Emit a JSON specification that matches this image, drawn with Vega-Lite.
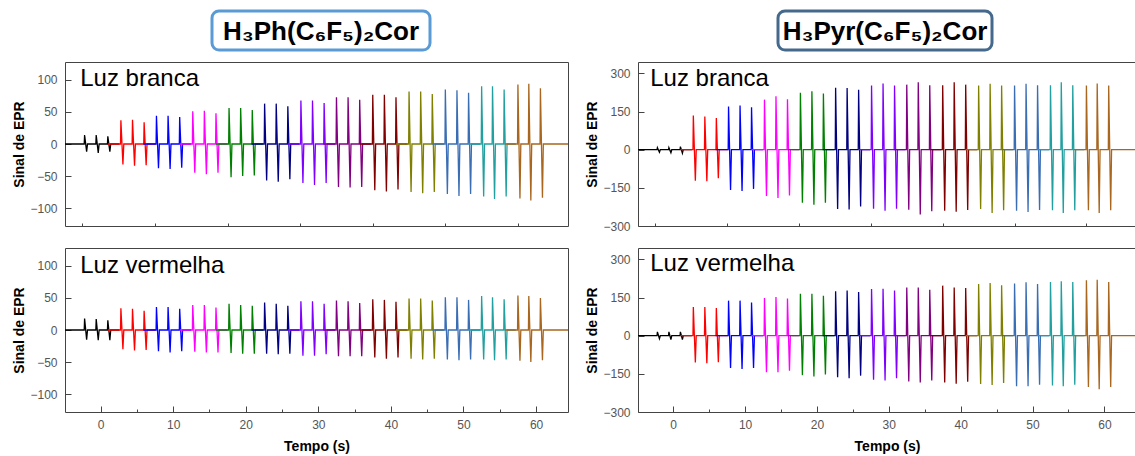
{
"$schema": "https://vega.github.io/schema/vega-lite/v6.json",
"padding": {"left": 12, "top": 9, "right": 0, "bottom": 0},
"config": {
  "font": "Liberation Sans",
  "view": {"stroke": "#444", "strokeWidth": 1},
  "axis": {"labelFont": "Liberation Sans", "labelFontSize": 12, "labelColor": "#555", "titleFont": "Liberation Sans", "titleFontSize": 14, "titleFontWeight": "bold", "titleColor": "#000", "domain": false, "grid": false, "tickColor": "#444", "tickWidth": 1, "labelOverlap": false, "labelBound": false}
},
"datasets": {
"tl": [
{"g":"k","t":-4.9,"v":0},{"g":"k","t":-2.25,"v":0},{"g":"k","t":-2.2,"v":14},{"g":"k","t":-1.92,"v":-12},{"g":"k","t":-1.8,"v":0},{"g":"k","t":-0.65,"v":0},{"g":"k","t":-0.6,"v":14},{"g":"k","t":-0.32,"v":-14},{"g":"k","t":-0.2,"v":0},{"g":"k","t":0.95,"v":0},{"g":"k","t":1.0,"v":12},{"g":"k","t":1.28,"v":-12},{"g":"k","t":1.4,"v":0},{"g":"k","t":2.6,"v":0},
{"g":"r","t":1.0,"v":0},{"g":"r","t":2.75,"v":0},{"g":"r","t":2.8,"v":37},{"g":"r","t":3.08,"v":-32},{"g":"r","t":3.2,"v":0},{"g":"r","t":4.35,"v":0},{"g":"r","t":4.4,"v":38},{"g":"r","t":4.68,"v":-34},{"g":"r","t":4.8,"v":0},{"g":"r","t":5.95,"v":0},{"g":"r","t":6.0,"v":34},{"g":"r","t":6.28,"v":-33},{"g":"r","t":6.4,"v":0},{"g":"r","t":7.6,"v":0},
{"g":"b","t":5.9,"v":0},{"g":"b","t":7.65,"v":0},{"g":"b","t":7.7,"v":44},{"g":"b","t":7.98,"v":-38},{"g":"b","t":8.1,"v":0},{"g":"b","t":9.25,"v":0},{"g":"b","t":9.3,"v":44},{"g":"b","t":9.58,"v":-39},{"g":"b","t":9.7,"v":0},{"g":"b","t":10.85,"v":0},{"g":"b","t":10.9,"v":42},{"g":"b","t":11.18,"v":-37},{"g":"b","t":11.3,"v":0},{"g":"b","t":12.5,"v":0},
{"g":"m","t":10.9,"v":0},{"g":"m","t":12.65,"v":0},{"g":"m","t":12.7,"v":51},{"g":"m","t":12.98,"v":-45},{"g":"m","t":13.1,"v":0},{"g":"m","t":14.25,"v":0},{"g":"m","t":14.3,"v":52},{"g":"m","t":14.58,"v":-47},{"g":"m","t":14.7,"v":0},{"g":"m","t":15.85,"v":0},{"g":"m","t":15.9,"v":48},{"g":"m","t":16.18,"v":-45},{"g":"m","t":16.3,"v":0},{"g":"m","t":17.5,"v":0},
{"g":"g","t":15.9,"v":0},{"g":"g","t":17.65,"v":0},{"g":"g","t":17.7,"v":56},{"g":"g","t":17.98,"v":-52},{"g":"g","t":18.1,"v":0},{"g":"g","t":19.25,"v":0},{"g":"g","t":19.3,"v":56},{"g":"g","t":19.58,"v":-50},{"g":"g","t":19.7,"v":0},{"g":"g","t":20.85,"v":0},{"g":"g","t":20.9,"v":53},{"g":"g","t":21.18,"v":-49},{"g":"g","t":21.3,"v":0},{"g":"g","t":22.4,"v":0},
{"g":"n","t":20.8,"v":0},{"g":"n","t":22.55,"v":0},{"g":"n","t":22.6,"v":63},{"g":"n","t":22.88,"v":-57},{"g":"n","t":23.0,"v":0},{"g":"n","t":24.15,"v":0},{"g":"n","t":24.2,"v":63},{"g":"n","t":24.48,"v":-59},{"g":"n","t":24.6,"v":0},{"g":"n","t":25.75,"v":0},{"g":"n","t":25.8,"v":59},{"g":"n","t":26.08,"v":-55},{"g":"n","t":26.2,"v":0},{"g":"n","t":27.4,"v":0},
{"g":"v","t":25.8,"v":0},{"g":"v","t":27.55,"v":0},{"g":"v","t":27.6,"v":68},{"g":"v","t":27.88,"v":-61},{"g":"v","t":28.0,"v":0},{"g":"v","t":29.15,"v":0},{"g":"v","t":29.2,"v":68},{"g":"v","t":29.48,"v":-64},{"g":"v","t":29.6,"v":0},{"g":"v","t":30.75,"v":0},{"g":"v","t":30.8,"v":64},{"g":"v","t":31.08,"v":-61},{"g":"v","t":31.2,"v":0},{"g":"v","t":32.3,"v":0},
{"g":"p","t":30.7,"v":0},{"g":"p","t":32.45,"v":0},{"g":"p","t":32.5,"v":73},{"g":"p","t":32.78,"v":-67},{"g":"p","t":32.9,"v":0},{"g":"p","t":34.05,"v":0},{"g":"p","t":34.1,"v":73},{"g":"p","t":34.38,"v":-68},{"g":"p","t":34.5,"v":0},{"g":"p","t":35.65,"v":0},{"g":"p","t":35.7,"v":69},{"g":"p","t":35.98,"v":-67},{"g":"p","t":36.1,"v":0},{"g":"p","t":37.3,"v":0},
{"g":"w","t":35.7,"v":0},{"g":"w","t":37.45,"v":0},{"g":"w","t":37.5,"v":77},{"g":"w","t":37.78,"v":-72},{"g":"w","t":37.9,"v":0},{"g":"w","t":39.05,"v":0},{"g":"w","t":39.1,"v":77},{"g":"w","t":39.38,"v":-74},{"g":"w","t":39.5,"v":0},{"g":"w","t":40.65,"v":0},{"g":"w","t":40.7,"v":73},{"g":"w","t":40.98,"v":-71},{"g":"w","t":41.1,"v":0},{"g":"w","t":42.3,"v":0},
{"g":"o","t":40.7,"v":0},{"g":"o","t":42.45,"v":0},{"g":"o","t":42.5,"v":82},{"g":"o","t":42.78,"v":-75},{"g":"o","t":42.9,"v":0},{"g":"o","t":44.05,"v":0},{"g":"o","t":44.1,"v":82},{"g":"o","t":44.38,"v":-77},{"g":"o","t":44.5,"v":0},{"g":"o","t":45.65,"v":0},{"g":"o","t":45.7,"v":78},{"g":"o","t":45.98,"v":-75},{"g":"o","t":46.1,"v":0},{"g":"o","t":47.3,"v":0},
{"g":"s","t":45.7,"v":0},{"g":"s","t":47.45,"v":0},{"g":"s","t":47.5,"v":85},{"g":"s","t":47.78,"v":-78},{"g":"s","t":47.9,"v":0},{"g":"s","t":49.05,"v":0},{"g":"s","t":49.1,"v":84},{"g":"s","t":49.38,"v":-81},{"g":"s","t":49.5,"v":0},{"g":"s","t":50.65,"v":0},{"g":"s","t":50.7,"v":80},{"g":"s","t":50.98,"v":-78},{"g":"s","t":51.1,"v":0},{"g":"s","t":52.3,"v":0},
{"g":"c","t":50.7,"v":0},{"g":"c","t":52.45,"v":0},{"g":"c","t":52.5,"v":90},{"g":"c","t":52.78,"v":-82},{"g":"c","t":52.9,"v":0},{"g":"c","t":53.95,"v":0},{"g":"c","t":54.0,"v":90},{"g":"c","t":54.28,"v":-86},{"g":"c","t":54.4,"v":0},{"g":"c","t":55.55,"v":0},{"g":"c","t":55.6,"v":85},{"g":"c","t":55.88,"v":-82},{"g":"c","t":56.0,"v":0},{"g":"c","t":57.2,"v":0},
{"g":"x","t":55.7,"v":0},{"g":"x","t":57.45,"v":0},{"g":"x","t":57.5,"v":93},{"g":"x","t":57.78,"v":-85},{"g":"x","t":57.9,"v":0},{"g":"x","t":58.95,"v":0},{"g":"x","t":59.0,"v":94},{"g":"x","t":59.28,"v":-88},{"g":"x","t":59.4,"v":0},{"g":"x","t":60.55,"v":0},{"g":"x","t":60.6,"v":87},{"g":"x","t":60.88,"v":-84},{"g":"x","t":61.0,"v":0},{"g":"x","t":64.4,"v":0}
],
"bl": [
{"g":"k","t":-4.9,"v":0},{"g":"k","t":-2.25,"v":0},{"g":"k","t":-2.2,"v":18},{"g":"k","t":-1.92,"v":-15},{"g":"k","t":-1.8,"v":0},{"g":"k","t":-0.65,"v":0},{"g":"k","t":-0.6,"v":17},{"g":"k","t":-0.32,"v":-16},{"g":"k","t":-0.2,"v":0},{"g":"k","t":0.95,"v":0},{"g":"k","t":1.0,"v":15},{"g":"k","t":1.28,"v":-16},{"g":"k","t":1.4,"v":0},{"g":"k","t":2.6,"v":0},
{"g":"r","t":1.0,"v":0},{"g":"r","t":2.75,"v":0},{"g":"r","t":2.8,"v":34},{"g":"r","t":3.08,"v":-30},{"g":"r","t":3.2,"v":0},{"g":"r","t":4.35,"v":0},{"g":"r","t":4.4,"v":33},{"g":"r","t":4.68,"v":-32},{"g":"r","t":4.8,"v":0},{"g":"r","t":5.95,"v":0},{"g":"r","t":6.0,"v":30},{"g":"r","t":6.28,"v":-31},{"g":"r","t":6.4,"v":0},{"g":"r","t":7.6,"v":0},
{"g":"b","t":5.9,"v":0},{"g":"b","t":7.65,"v":0},{"g":"b","t":7.7,"v":36},{"g":"b","t":7.98,"v":-33},{"g":"b","t":8.1,"v":0},{"g":"b","t":9.25,"v":0},{"g":"b","t":9.3,"v":36},{"g":"b","t":9.58,"v":-35},{"g":"b","t":9.7,"v":0},{"g":"b","t":10.85,"v":0},{"g":"b","t":10.9,"v":33},{"g":"b","t":11.18,"v":-33},{"g":"b","t":11.3,"v":0},{"g":"b","t":12.5,"v":0},
{"g":"m","t":10.9,"v":0},{"g":"m","t":12.65,"v":0},{"g":"m","t":12.7,"v":39},{"g":"m","t":12.98,"v":-34},{"g":"m","t":13.1,"v":0},{"g":"m","t":14.25,"v":0},{"g":"m","t":14.3,"v":39},{"g":"m","t":14.58,"v":-35},{"g":"m","t":14.7,"v":0},{"g":"m","t":15.85,"v":0},{"g":"m","t":15.9,"v":35},{"g":"m","t":16.18,"v":-35},{"g":"m","t":16.3,"v":0},{"g":"m","t":17.5,"v":0},
{"g":"g","t":15.9,"v":0},{"g":"g","t":17.65,"v":0},{"g":"g","t":17.7,"v":41},{"g":"g","t":17.98,"v":-36},{"g":"g","t":18.1,"v":0},{"g":"g","t":19.25,"v":0},{"g":"g","t":19.3,"v":39},{"g":"g","t":19.58,"v":-37},{"g":"g","t":19.7,"v":0},{"g":"g","t":20.85,"v":0},{"g":"g","t":20.9,"v":38},{"g":"g","t":21.18,"v":-37},{"g":"g","t":21.3,"v":0},{"g":"g","t":22.4,"v":0},
{"g":"n","t":20.8,"v":0},{"g":"n","t":22.55,"v":0},{"g":"n","t":22.6,"v":43},{"g":"n","t":22.88,"v":-37},{"g":"n","t":23.0,"v":0},{"g":"n","t":24.15,"v":0},{"g":"n","t":24.2,"v":41},{"g":"n","t":24.48,"v":-38},{"g":"n","t":24.6,"v":0},{"g":"n","t":25.75,"v":0},{"g":"n","t":25.8,"v":38},{"g":"n","t":26.08,"v":-37},{"g":"n","t":26.2,"v":0},{"g":"n","t":27.4,"v":0},
{"g":"v","t":25.8,"v":0},{"g":"v","t":27.55,"v":0},{"g":"v","t":27.6,"v":45},{"g":"v","t":27.88,"v":-40},{"g":"v","t":28.0,"v":0},{"g":"v","t":29.15,"v":0},{"g":"v","t":29.2,"v":45},{"g":"v","t":29.48,"v":-40},{"g":"v","t":29.6,"v":0},{"g":"v","t":30.75,"v":0},{"g":"v","t":30.8,"v":41},{"g":"v","t":31.08,"v":-38},{"g":"v","t":31.2,"v":0},{"g":"v","t":32.3,"v":0},
{"g":"p","t":30.7,"v":0},{"g":"p","t":32.45,"v":0},{"g":"p","t":32.5,"v":46},{"g":"p","t":32.78,"v":-41},{"g":"p","t":32.9,"v":0},{"g":"p","t":34.05,"v":0},{"g":"p","t":34.1,"v":45},{"g":"p","t":34.38,"v":-41},{"g":"p","t":34.5,"v":0},{"g":"p","t":35.65,"v":0},{"g":"p","t":35.7,"v":42},{"g":"p","t":35.98,"v":-41},{"g":"p","t":36.1,"v":0},{"g":"p","t":37.3,"v":0},
{"g":"w","t":35.7,"v":0},{"g":"w","t":37.45,"v":0},{"g":"w","t":37.5,"v":48},{"g":"w","t":37.78,"v":-43},{"g":"w","t":37.9,"v":0},{"g":"w","t":39.05,"v":0},{"g":"w","t":39.1,"v":47},{"g":"w","t":39.38,"v":-45},{"g":"w","t":39.5,"v":0},{"g":"w","t":40.65,"v":0},{"g":"w","t":40.7,"v":44},{"g":"w","t":40.98,"v":-43},{"g":"w","t":41.1,"v":0},{"g":"w","t":42.3,"v":0},
{"g":"o","t":40.7,"v":0},{"g":"o","t":42.45,"v":0},{"g":"o","t":42.5,"v":49},{"g":"o","t":42.78,"v":-45},{"g":"o","t":42.9,"v":0},{"g":"o","t":44.05,"v":0},{"g":"o","t":44.1,"v":49},{"g":"o","t":44.38,"v":-46},{"g":"o","t":44.5,"v":0},{"g":"o","t":45.65,"v":0},{"g":"o","t":45.7,"v":46},{"g":"o","t":45.98,"v":-45},{"g":"o","t":46.1,"v":0},{"g":"o","t":47.3,"v":0},
{"g":"s","t":45.7,"v":0},{"g":"s","t":47.45,"v":0},{"g":"s","t":47.5,"v":51},{"g":"s","t":47.78,"v":-46},{"g":"s","t":47.9,"v":0},{"g":"s","t":49.05,"v":0},{"g":"s","t":49.1,"v":51},{"g":"s","t":49.38,"v":-47},{"g":"s","t":49.5,"v":0},{"g":"s","t":50.65,"v":0},{"g":"s","t":50.7,"v":47},{"g":"s","t":50.98,"v":-46},{"g":"s","t":51.1,"v":0},{"g":"s","t":52.3,"v":0},
{"g":"c","t":50.7,"v":0},{"g":"c","t":52.45,"v":0},{"g":"c","t":52.5,"v":53},{"g":"c","t":52.78,"v":-46},{"g":"c","t":52.9,"v":0},{"g":"c","t":53.95,"v":0},{"g":"c","t":54.0,"v":51},{"g":"c","t":54.28,"v":-47},{"g":"c","t":54.4,"v":0},{"g":"c","t":55.55,"v":0},{"g":"c","t":55.6,"v":48},{"g":"c","t":55.88,"v":-46},{"g":"c","t":56.0,"v":0},{"g":"c","t":57.2,"v":0},
{"g":"x","t":55.7,"v":0},{"g":"x","t":57.45,"v":0},{"g":"x","t":57.5,"v":54},{"g":"x","t":57.78,"v":-48},{"g":"x","t":57.9,"v":0},{"g":"x","t":58.95,"v":0},{"g":"x","t":59.0,"v":53},{"g":"x","t":59.28,"v":-50},{"g":"x","t":59.4,"v":0},{"g":"x","t":60.55,"v":0},{"g":"x","t":60.6,"v":50},{"g":"x","t":60.88,"v":-47},{"g":"x","t":61.0,"v":0},{"g":"x","t":64.4,"v":0}
],
"tr": [
{"g":"k","t":-4.9,"v":0},{"g":"k","t":-2.25,"v":0},{"g":"k","t":-2.2,"v":8},{"g":"k","t":-1.92,"v":-10},{"g":"k","t":-1.8,"v":0},{"g":"k","t":-0.65,"v":0},{"g":"k","t":-0.6,"v":8},{"g":"k","t":-0.32,"v":-12},{"g":"k","t":-0.2,"v":0},{"g":"k","t":0.95,"v":0},{"g":"k","t":1.0,"v":12},{"g":"k","t":1.28,"v":-14},{"g":"k","t":1.4,"v":0},{"g":"k","t":2.6,"v":0},
{"g":"r","t":1.0,"v":0},{"g":"r","t":2.75,"v":0},{"g":"r","t":2.8,"v":135},{"g":"r","t":3.08,"v":-122},{"g":"r","t":3.2,"v":0},{"g":"r","t":4.35,"v":0},{"g":"r","t":4.4,"v":131},{"g":"r","t":4.68,"v":-124},{"g":"r","t":4.8,"v":0},{"g":"r","t":5.95,"v":0},{"g":"r","t":6.0,"v":125},{"g":"r","t":6.28,"v":-112},{"g":"r","t":6.4,"v":0},{"g":"r","t":7.6,"v":0},
{"g":"b","t":5.9,"v":0},{"g":"b","t":7.65,"v":0},{"g":"b","t":7.7,"v":170},{"g":"b","t":7.98,"v":-158},{"g":"b","t":8.1,"v":0},{"g":"b","t":9.25,"v":0},{"g":"b","t":9.3,"v":174},{"g":"b","t":9.58,"v":-162},{"g":"b","t":9.7,"v":0},{"g":"b","t":10.85,"v":0},{"g":"b","t":10.9,"v":167},{"g":"b","t":11.18,"v":-154},{"g":"b","t":11.3,"v":0},{"g":"b","t":12.5,"v":0},
{"g":"m","t":10.9,"v":0},{"g":"m","t":12.65,"v":0},{"g":"m","t":12.7,"v":197},{"g":"m","t":12.98,"v":-182},{"g":"m","t":13.1,"v":0},{"g":"m","t":14.25,"v":0},{"g":"m","t":14.3,"v":210},{"g":"m","t":14.58,"v":-190},{"g":"m","t":14.7,"v":0},{"g":"m","t":15.85,"v":0},{"g":"m","t":15.9,"v":198},{"g":"m","t":16.18,"v":-180},{"g":"m","t":16.3,"v":0},{"g":"m","t":17.5,"v":0},
{"g":"g","t":15.9,"v":0},{"g":"g","t":17.65,"v":0},{"g":"g","t":17.7,"v":224},{"g":"g","t":17.98,"v":-209},{"g":"g","t":18.1,"v":0},{"g":"g","t":19.25,"v":0},{"g":"g","t":19.3,"v":230},{"g":"g","t":19.58,"v":-216},{"g":"g","t":19.7,"v":0},{"g":"g","t":20.85,"v":0},{"g":"g","t":20.9,"v":221},{"g":"g","t":21.18,"v":-209},{"g":"g","t":21.3,"v":0},{"g":"g","t":22.4,"v":0},
{"g":"n","t":20.8,"v":0},{"g":"n","t":22.55,"v":0},{"g":"n","t":22.6,"v":244},{"g":"n","t":22.88,"v":-233},{"g":"n","t":23.0,"v":0},{"g":"n","t":24.15,"v":0},{"g":"n","t":24.2,"v":243},{"g":"n","t":24.48,"v":-235},{"g":"n","t":24.6,"v":0},{"g":"n","t":25.75,"v":0},{"g":"n","t":25.8,"v":236},{"g":"n","t":26.08,"v":-223},{"g":"n","t":26.2,"v":0},{"g":"n","t":27.4,"v":0},
{"g":"v","t":25.8,"v":0},{"g":"v","t":27.55,"v":0},{"g":"v","t":27.6,"v":253},{"g":"v","t":27.88,"v":-232},{"g":"v","t":28.0,"v":0},{"g":"v","t":29.15,"v":0},{"g":"v","t":29.2,"v":260},{"g":"v","t":29.48,"v":-240},{"g":"v","t":29.6,"v":0},{"g":"v","t":30.75,"v":0},{"g":"v","t":30.8,"v":253},{"g":"v","t":31.08,"v":-232},{"g":"v","t":31.2,"v":0},{"g":"v","t":32.3,"v":0},
{"g":"p","t":30.7,"v":0},{"g":"p","t":32.45,"v":0},{"g":"p","t":32.5,"v":256},{"g":"p","t":32.78,"v":-236},{"g":"p","t":32.9,"v":0},{"g":"p","t":34.05,"v":0},{"g":"p","t":34.1,"v":265},{"g":"p","t":34.38,"v":-255},{"g":"p","t":34.5,"v":0},{"g":"p","t":35.65,"v":0},{"g":"p","t":35.7,"v":254},{"g":"p","t":35.98,"v":-242},{"g":"p","t":36.1,"v":0},{"g":"p","t":37.3,"v":0},
{"g":"w","t":35.7,"v":0},{"g":"w","t":37.45,"v":0},{"g":"w","t":37.5,"v":254},{"g":"w","t":37.78,"v":-240},{"g":"w","t":37.9,"v":0},{"g":"w","t":39.05,"v":0},{"g":"w","t":39.1,"v":265},{"g":"w","t":39.38,"v":-244},{"g":"w","t":39.5,"v":0},{"g":"w","t":40.65,"v":0},{"g":"w","t":40.7,"v":256},{"g":"w","t":40.98,"v":-237},{"g":"w","t":41.1,"v":0},{"g":"w","t":42.3,"v":0},
{"g":"o","t":40.7,"v":0},{"g":"o","t":42.45,"v":0},{"g":"o","t":42.5,"v":253},{"g":"o","t":42.78,"v":-233},{"g":"o","t":42.9,"v":0},{"g":"o","t":44.05,"v":0},{"g":"o","t":44.1,"v":259},{"g":"o","t":44.38,"v":-249},{"g":"o","t":44.5,"v":0},{"g":"o","t":45.65,"v":0},{"g":"o","t":45.7,"v":253},{"g":"o","t":45.98,"v":-238},{"g":"o","t":46.1,"v":0},{"g":"o","t":47.3,"v":0},
{"g":"s","t":45.7,"v":0},{"g":"s","t":47.45,"v":0},{"g":"s","t":47.5,"v":253},{"g":"s","t":47.78,"v":-240},{"g":"s","t":47.9,"v":0},{"g":"s","t":49.05,"v":0},{"g":"s","t":49.1,"v":259},{"g":"s","t":49.38,"v":-245},{"g":"s","t":49.5,"v":0},{"g":"s","t":50.65,"v":0},{"g":"s","t":50.7,"v":254},{"g":"s","t":50.98,"v":-237},{"g":"s","t":51.1,"v":0},{"g":"s","t":52.3,"v":0},
{"g":"c","t":50.7,"v":0},{"g":"c","t":52.45,"v":0},{"g":"c","t":52.5,"v":254},{"g":"c","t":52.78,"v":-238},{"g":"c","t":52.9,"v":0},{"g":"c","t":53.95,"v":0},{"g":"c","t":54.0,"v":265},{"g":"c","t":54.28,"v":-249},{"g":"c","t":54.4,"v":0},{"g":"c","t":55.55,"v":0},{"g":"c","t":55.6,"v":254},{"g":"c","t":55.88,"v":-238},{"g":"c","t":56.0,"v":0},{"g":"c","t":57.2,"v":0},
{"g":"x","t":55.7,"v":0},{"g":"x","t":57.45,"v":0},{"g":"x","t":57.5,"v":253},{"g":"x","t":57.78,"v":-238},{"g":"x","t":57.9,"v":0},{"g":"x","t":58.95,"v":0},{"g":"x","t":59.0,"v":260},{"g":"x","t":59.28,"v":-249},{"g":"x","t":59.4,"v":0},{"g":"x","t":60.55,"v":0},{"g":"x","t":60.6,"v":253},{"g":"x","t":60.88,"v":-238},{"g":"x","t":61.0,"v":0},{"g":"x","t":64.4,"v":0}
],
"br": [
{"g":"k","t":-4.9,"v":0},{"g":"k","t":-2.25,"v":0},{"g":"k","t":-2.2,"v":15},{"g":"k","t":-1.92,"v":-12},{"g":"k","t":-1.8,"v":0},{"g":"k","t":-0.65,"v":0},{"g":"k","t":-0.6,"v":15},{"g":"k","t":-0.32,"v":-15},{"g":"k","t":-0.2,"v":0},{"g":"k","t":0.95,"v":0},{"g":"k","t":1.0,"v":15},{"g":"k","t":1.28,"v":-15},{"g":"k","t":1.4,"v":0},{"g":"k","t":2.6,"v":0},
{"g":"r","t":1.0,"v":0},{"g":"r","t":2.75,"v":0},{"g":"r","t":2.8,"v":113},{"g":"r","t":3.08,"v":-105},{"g":"r","t":3.2,"v":0},{"g":"r","t":4.35,"v":0},{"g":"r","t":4.4,"v":113},{"g":"r","t":4.68,"v":-108},{"g":"r","t":4.8,"v":0},{"g":"r","t":5.95,"v":0},{"g":"r","t":6.0,"v":109},{"g":"r","t":6.28,"v":-104},{"g":"r","t":6.4,"v":0},{"g":"r","t":7.6,"v":0},
{"g":"b","t":5.9,"v":0},{"g":"b","t":7.65,"v":0},{"g":"b","t":7.7,"v":138},{"g":"b","t":7.98,"v":-127},{"g":"b","t":8.1,"v":0},{"g":"b","t":9.25,"v":0},{"g":"b","t":9.3,"v":138},{"g":"b","t":9.58,"v":-131},{"g":"b","t":9.7,"v":0},{"g":"b","t":10.85,"v":0},{"g":"b","t":10.9,"v":131},{"g":"b","t":11.18,"v":-127},{"g":"b","t":11.3,"v":0},{"g":"b","t":12.5,"v":0},
{"g":"m","t":10.9,"v":0},{"g":"m","t":12.65,"v":0},{"g":"m","t":12.7,"v":148},{"g":"m","t":12.98,"v":-144},{"g":"m","t":13.1,"v":0},{"g":"m","t":14.25,"v":0},{"g":"m","t":14.3,"v":152},{"g":"m","t":14.58,"v":-144},{"g":"m","t":14.7,"v":0},{"g":"m","t":15.85,"v":0},{"g":"m","t":15.9,"v":146},{"g":"m","t":16.18,"v":-138},{"g":"m","t":16.3,"v":0},{"g":"m","t":17.5,"v":0},
{"g":"g","t":15.9,"v":0},{"g":"g","t":17.65,"v":0},{"g":"g","t":17.7,"v":165},{"g":"g","t":17.98,"v":-155},{"g":"g","t":18.1,"v":0},{"g":"g","t":19.25,"v":0},{"g":"g","t":19.3,"v":165},{"g":"g","t":19.58,"v":-160},{"g":"g","t":19.7,"v":0},{"g":"g","t":20.85,"v":0},{"g":"g","t":20.9,"v":157},{"g":"g","t":21.18,"v":-152},{"g":"g","t":21.3,"v":0},{"g":"g","t":22.4,"v":0},
{"g":"n","t":20.8,"v":0},{"g":"n","t":22.55,"v":0},{"g":"n","t":22.6,"v":175},{"g":"n","t":22.88,"v":-163},{"g":"n","t":23.0,"v":0},{"g":"n","t":24.15,"v":0},{"g":"n","t":24.2,"v":178},{"g":"n","t":24.48,"v":-167},{"g":"n","t":24.6,"v":0},{"g":"n","t":25.75,"v":0},{"g":"n","t":25.8,"v":172},{"g":"n","t":26.08,"v":-157},{"g":"n","t":26.2,"v":0},{"g":"n","t":27.4,"v":0},
{"g":"v","t":25.8,"v":0},{"g":"v","t":27.55,"v":0},{"g":"v","t":27.6,"v":184},{"g":"v","t":27.88,"v":-173},{"g":"v","t":28.0,"v":0},{"g":"v","t":29.15,"v":0},{"g":"v","t":29.2,"v":185},{"g":"v","t":29.48,"v":-176},{"g":"v","t":29.6,"v":0},{"g":"v","t":30.75,"v":0},{"g":"v","t":30.8,"v":178},{"g":"v","t":31.08,"v":-167},{"g":"v","t":31.2,"v":0},{"g":"v","t":32.3,"v":0},
{"g":"p","t":30.7,"v":0},{"g":"p","t":32.45,"v":0},{"g":"p","t":32.5,"v":190},{"g":"p","t":32.78,"v":-180},{"g":"p","t":32.9,"v":0},{"g":"p","t":34.05,"v":0},{"g":"p","t":34.1,"v":190},{"g":"p","t":34.38,"v":-184},{"g":"p","t":34.5,"v":0},{"g":"p","t":35.65,"v":0},{"g":"p","t":35.7,"v":181},{"g":"p","t":35.98,"v":-176},{"g":"p","t":36.1,"v":0},{"g":"p","t":37.3,"v":0},
{"g":"w","t":35.7,"v":0},{"g":"w","t":37.45,"v":0},{"g":"w","t":37.5,"v":197},{"g":"w","t":37.78,"v":-184},{"g":"w","t":37.9,"v":0},{"g":"w","t":39.05,"v":0},{"g":"w","t":39.1,"v":190},{"g":"w","t":39.38,"v":-189},{"g":"w","t":39.5,"v":0},{"g":"w","t":40.65,"v":0},{"g":"w","t":40.7,"v":188},{"g":"w","t":40.98,"v":-181},{"g":"w","t":41.1,"v":0},{"g":"w","t":42.3,"v":0},
{"g":"o","t":40.7,"v":0},{"g":"o","t":42.45,"v":0},{"g":"o","t":42.5,"v":203},{"g":"o","t":42.78,"v":-190},{"g":"o","t":42.9,"v":0},{"g":"o","t":44.05,"v":0},{"g":"o","t":44.1,"v":207},{"g":"o","t":44.38,"v":-194},{"g":"o","t":44.5,"v":0},{"g":"o","t":45.65,"v":0},{"g":"o","t":45.7,"v":198},{"g":"o","t":45.98,"v":-186},{"g":"o","t":46.1,"v":0},{"g":"o","t":47.3,"v":0},
{"g":"s","t":45.7,"v":0},{"g":"s","t":47.45,"v":0},{"g":"s","t":47.5,"v":205},{"g":"s","t":47.78,"v":-199},{"g":"s","t":47.9,"v":0},{"g":"s","t":49.05,"v":0},{"g":"s","t":49.1,"v":210},{"g":"s","t":49.38,"v":-199},{"g":"s","t":49.5,"v":0},{"g":"s","t":50.65,"v":0},{"g":"s","t":50.7,"v":203},{"g":"s","t":50.98,"v":-193},{"g":"s","t":51.1,"v":0},{"g":"s","t":52.3,"v":0},
{"g":"c","t":50.7,"v":0},{"g":"c","t":52.45,"v":0},{"g":"c","t":52.5,"v":211},{"g":"c","t":52.78,"v":-196},{"g":"c","t":52.9,"v":0},{"g":"c","t":53.95,"v":0},{"g":"c","t":54.0,"v":214},{"g":"c","t":54.28,"v":-199},{"g":"c","t":54.4,"v":0},{"g":"c","t":55.55,"v":0},{"g":"c","t":55.6,"v":211},{"g":"c","t":55.88,"v":-193},{"g":"c","t":56.0,"v":0},{"g":"c","t":57.2,"v":0},
{"g":"x","t":55.7,"v":0},{"g":"x","t":57.45,"v":0},{"g":"x","t":57.5,"v":218},{"g":"x","t":57.78,"v":-202},{"g":"x","t":57.9,"v":0},{"g":"x","t":58.95,"v":0},{"g":"x","t":59.0,"v":220},{"g":"x","t":59.28,"v":-210},{"g":"x","t":59.4,"v":0},{"g":"x","t":60.55,"v":0},{"g":"x","t":60.6,"v":211},{"g":"x","t":60.88,"v":-202},{"g":"x","t":61.0,"v":0},{"g":"x","t":64.4,"v":0}
]
},
"spacing": 9,
"vconcat": [
  {"spacing": 0, "hconcat": [
    {"width": 145, "height": 39, "data": {"values": [{"s": ""}]}, "mark": {"type": "text"}, "encoding": {"text": {"field": "s"}}, "view": {"stroke": null}},
    {"width": 218, "height": 39, "data": {"values": [{"name": "H₃Ph(C₆F₅)₂Cor"}]}, "mark": {"type": "text", "fontSize": 26, "fontWeight": "bold", "font": "Liberation Sans", "align": "center", "baseline": "middle", "dy": 1, "color": "#000"}, "encoding": {"text": {"field": "name"}}, "view": {"stroke": "#5b9bd5", "strokeWidth": 3, "cornerRadius": 7, "fill": "white"}},
    {"width": 344, "height": 39, "data": {"values": [{"s": ""}]}, "mark": {"type": "text"}, "encoding": {"text": {"field": "s"}}, "view": {"stroke": null}},
    {"width": 214, "height": 39, "data": {"values": [{"name": "H₃Pyr(C₆F₅)₂Cor"}]}, "mark": {"type": "text", "fontSize": 26, "fontWeight": "bold", "font": "Liberation Sans", "align": "center", "baseline": "middle", "dy": 1, "color": "#000"}, "encoding": {"text": {"field": "name"}}, "view": {"stroke": "#45698c", "strokeWidth": 3, "cornerRadius": 7, "fill": "white"}}
  ]},
  {"columns": 2, "spacing": {"row": 14, "column": 16}, "concat": [
    {"width": 503, "height": 164, "layer": [
      {"data": {"name": "tl"}, "mark": {"type": "line", "strokeWidth": 1.3, "clip": true},
       "encoding": {
         "x": {"field": "t", "type": "quantitative", "scale": {"domain": [-4.9, 64.4], "nice": false, "zero": false},
               "axis": {"title": null, "values": [-2.5,0,2.5,5,7.5,10,12.5,15,17.5,20,22.5,25,27.5,30,32.5,35,37.5,40,42.5,45,47.5,50,52.5,55,57.5,60,62.5], "labels": false, "tickSize": {"condition": {"test": "datum.value % 5 === 0", "value": -6}, "value": -3}}},
         "y": {"field": "v", "type": "quantitative", "scale": {"domain": [-128, 128], "nice": false},
               "axis": {"title": "Sinal de EPR", "titlePadding": 3, "values": [-100,-75,-50,-25,0,25,50,75,100], "labelOverlap": false, "labelExpr": "datum.value % 50 === 0 ? datum.label : ''", "labelPadding": 14, "tickSize": {"condition": {"test": "datum.value % 50 === 0", "value": -6}, "value": -3}}},
         "color": {"field": "g", "type": "nominal", "legend": null, "scale": {"domain": ["k","r","b","m","g","n","v","p","w","o","s","c","x"], "range": ["#000000","#ff0000","#0000ff","#ff00ff","#008000","#000080","#8000ff","#800080","#800000","#808000","#3a6eb4","#22a0a0","#a8661f"]}}
       }},
      {"data": {"values": [{"label": "Luz branca"}]}, "mark": {"type": "text", "align": "left", "baseline": "middle", "fontSize": 24, "font": "Liberation Sans", "color": "#000"},
       "encoding": {"x": {"datum": -2.8}, "y": {"datum": 101}, "text": {"field": "label"}}}
    ]},
    {"width": 498, "height": 164, "layer": [
      {"data": {"name": "tr"}, "mark": {"type": "line", "strokeWidth": 1.3, "clip": true},
       "encoding": {
         "x": {"field": "t", "type": "quantitative", "scale": {"domain": [-4.9, 64.4], "nice": false, "zero": false},
               "axis": {"title": null, "values": [-2.5,0,2.5,5,7.5,10,12.5,15,17.5,20,22.5,25,27.5,30,32.5,35,37.5,40,42.5,45,47.5,50,52.5,55,57.5,60,62.5], "labels": false, "tickSize": {"condition": {"test": "datum.value % 5 === 0", "value": -6}, "value": -3}}},
         "y": {"field": "v", "type": "quantitative", "scale": {"domain": [-300, 345], "nice": false},
               "axis": {"title": "Sinal de EPR", "titlePadding": 3, "values": [-300,-225,-150,-75,0,75,150,225,300], "labelOverlap": false, "labelExpr": "datum.value % 150 === 0 ? datum.label : ''", "labelPadding": 14, "tickSize": {"condition": {"test": "datum.value % 150 === 0", "value": -6}, "value": -3}}},
         "color": {"field": "g", "type": "nominal", "legend": null, "scale": {"domain": ["k","r","b","m","g","n","v","p","w","o","s","c","x"], "range": ["#000000","#ff0000","#0000ff","#ff00ff","#008000","#000080","#8000ff","#800080","#800000","#808000","#3a6eb4","#22a0a0","#a8661f"]}}
       }},
      {"data": {"values": [{"label": "Luz branca"}]}, "mark": {"type": "text", "align": "left", "baseline": "middle", "fontSize": 24, "font": "Liberation Sans", "color": "#000"},
       "encoding": {"x": {"datum": -3.2}, "y": {"datum": 278}, "text": {"field": "label"}}}
    ]},
    {"width": 503, "height": 164, "layer": [
      {"data": {"name": "bl"}, "mark": {"type": "line", "strokeWidth": 1.3, "clip": true},
       "encoding": {
         "x": {"field": "t", "type": "quantitative", "scale": {"domain": [-4.9, 64.4], "nice": false, "zero": false},
               "axis": {"title": "Tempo (s)", "titlePadding": 6, "values": [0,5,10,15,20,25,30,35,40,45,50,55,60], "labelOverlap": false, "labelExpr": "datum.value % 10 === 0 ? datum.label : ''", "labelPadding": 13, "tickSize": {"condition": {"test": "datum.value % 10 === 0", "value": -6}, "value": -3}}},
         "y": {"field": "v", "type": "quantitative", "scale": {"domain": [-128, 128], "nice": false},
               "axis": {"title": "Sinal de EPR", "titlePadding": 3, "values": [-100,-75,-50,-25,0,25,50,75,100], "labelOverlap": false, "labelExpr": "datum.value % 50 === 0 ? datum.label : ''", "labelPadding": 14, "tickSize": {"condition": {"test": "datum.value % 50 === 0", "value": -6}, "value": -3}}},
         "color": {"field": "g", "type": "nominal", "legend": null, "scale": {"domain": ["k","r","b","m","g","n","v","p","w","o","s","c","x"], "range": ["#000000","#ff0000","#0000ff","#ff00ff","#008000","#000080","#8000ff","#800080","#800000","#808000","#3a6eb4","#22a0a0","#a8661f"]}}
       }},
      {"data": {"values": [{"label": "Luz vermelha"}]}, "mark": {"type": "text", "align": "left", "baseline": "middle", "fontSize": 24, "font": "Liberation Sans", "color": "#000"},
       "encoding": {"x": {"datum": -2.8}, "y": {"datum": 100}, "text": {"field": "label"}}}
    ]},
    {"width": 498, "height": 164, "layer": [
      {"data": {"name": "br"}, "mark": {"type": "line", "strokeWidth": 1.3, "clip": true},
       "encoding": {
         "x": {"field": "t", "type": "quantitative", "scale": {"domain": [-4.9, 64.4], "nice": false, "zero": false},
               "axis": {"title": "Tempo (s)", "titlePadding": 6, "values": [0,5,10,15,20,25,30,35,40,45,50,55,60], "labelOverlap": false, "labelExpr": "datum.value % 10 === 0 ? datum.label : ''", "labelPadding": 13, "tickSize": {"condition": {"test": "datum.value % 10 === 0", "value": -6}, "value": -3}}},
         "y": {"field": "v", "type": "quantitative", "scale": {"domain": [-300, 345], "nice": false},
               "axis": {"title": "Sinal de EPR", "titlePadding": 3, "values": [-300,-225,-150,-75,0,75,150,225,300], "labelOverlap": false, "labelExpr": "datum.value % 150 === 0 ? datum.label : ''", "labelPadding": 14, "tickSize": {"condition": {"test": "datum.value % 150 === 0", "value": -6}, "value": -3}}},
         "color": {"field": "g", "type": "nominal", "legend": null, "scale": {"domain": ["k","r","b","m","g","n","v","p","w","o","s","c","x"], "range": ["#000000","#ff0000","#0000ff","#ff00ff","#008000","#000080","#8000ff","#800080","#800000","#808000","#3a6eb4","#22a0a0","#a8661f"]}}
       }},
      {"data": {"values": [{"label": "Luz vermelha"}]}, "mark": {"type": "text", "align": "left", "baseline": "middle", "fontSize": 24, "font": "Liberation Sans", "color": "#000"},
       "encoding": {"x": {"datum": -3.2}, "y": {"datum": 282}, "text": {"field": "label"}}}
    ]}
  ]}
]
}
